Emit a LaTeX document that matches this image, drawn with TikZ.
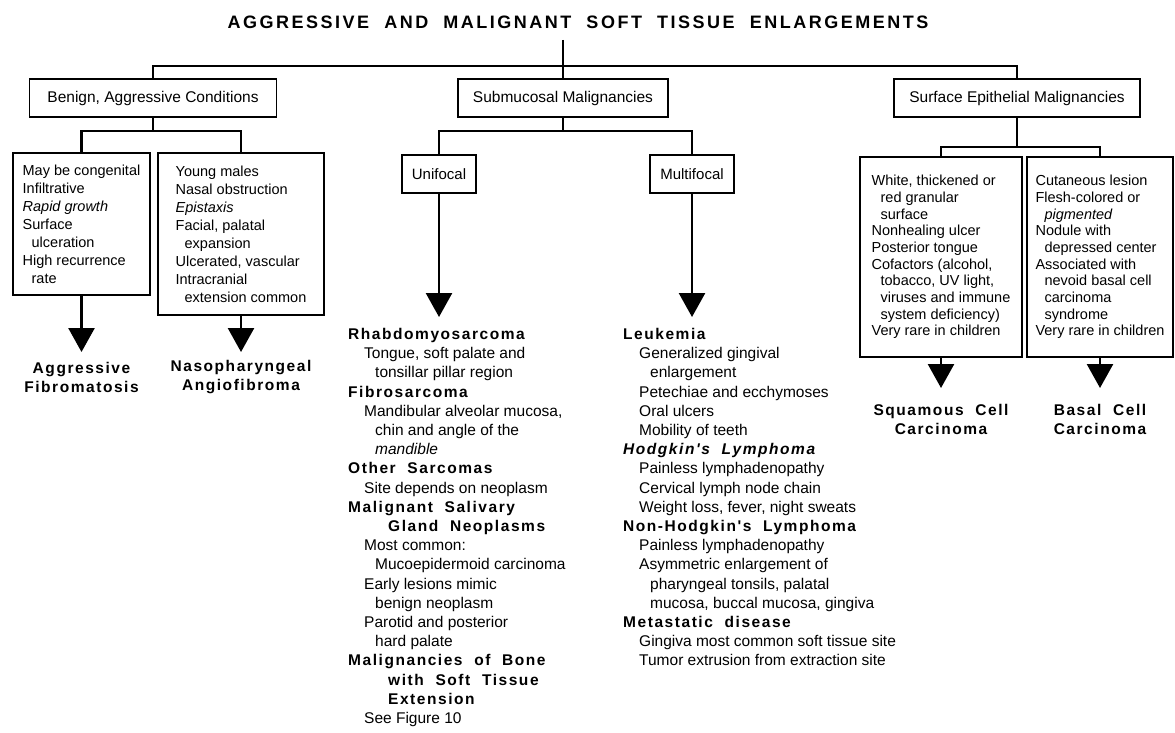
\documentclass[tikz,border=0pt]{standalone}
\usepackage{fontspec}
\setmainfont{Liberation Sans}
\newfontfamily\spacedfont[LetterSpace=10]{Liberation Sans}
\newfontfamily\titlefont[LetterSpace=14]{Liberation Sans}
\usetikzlibrary{arrows.meta}
\newcommand\hd[1]{{\spacedfont\bfseries #1}}
\newcommand\hdi[1]{{\spacedfont\bfseries\itshape #1}}
\newcommand\ia{\hspace*{16pt}}
\newcommand\ib{\hspace*{27pt}}
\newcommand\ic{\hspace*{40pt}}
\newcommand\bi{\hspace*{9pt}}
\tikzset{
  box/.style={draw, line width=1.5pt, inner sep=0pt, align=left},
  topbox/.style={box, minimum height=38pt, font=\fontsize{15.5}{18}\selectfont},
  smallbox/.style={box, minimum height=38pt, font=\fontsize{15}{18}\selectfont, align=center},
  lboxtext/.style={font=\fontsize{14.5}{18}\selectfont},
  rboxtext/.style={font=\fontsize{14.5}{16.7}\selectfont},
  conn/.style={line width=2.4pt},
  bigarrow/.style={line width=2.6pt, -{Triangle[width=26pt,length=24pt]}},
  coltext/.style={anchor=north west, inner sep=0pt, align=left, font=\fontsize{15.5}{19.2}\selectfont},
  label/.style={align=center, inner sep=0pt, font=\fontsize{15.5}{19}\selectfont\spacedfont\bfseries},
}
\begin{document}
\begin{tikzpicture}[x=1pt,y=-1pt]
\path[fill=white] (0,0) rectangle (1175,733);
\useasboundingbox (0,0) rectangle (1175,733);

% title
\node[inner sep=0pt, font=\fontsize{18}{20}\selectfont\titlefont\bfseries] (title) at (578,22)
  {AGGRESSIVE\ \ AND\ \ MALIGNANT\ \ SOFT\ \ TISSUE\ \ ENLARGEMENTS};
\coordinate (stemtop) at (563,40);
\coordinate (bar) at (563,66);

% top level boxes
\node[topbox, minimum width=247pt] (benign) at (153,98) {Benign, Aggressive Conditions};
\node[topbox, minimum width=210pt] (submuc) at (563,98) {Submucosal Malignancies};
\node[topbox, minimum width=246pt] (surface) at (1017,98) {Surface Epithelial Malignancies};

\draw[conn] (stemtop) -- (submuc.north);
\draw[conn] (benign.north) |- (bar) -| (surface.north);

% benign branch
\node[box, lboxtext, minimum width=137pt, minimum height=142pt] (box1) at (81.5,224)
{May be congenital\\Infiltrative\\\textit{Rapid growth}\\Surface\\\bi ulceration\\High recurrence\\\bi rate};
\node[box, lboxtext, minimum width=166pt, minimum height=162pt] (box2) at (241,234)
{Young males\\Nasal obstruction\\\textit{Epistaxis}\\Facial, palatal\\\bi expansion\\Ulcerated, vascular\\Intracranial\\\bi extension common};
\coordinate (bj) at (153,131);
\draw[conn] (benign.south) -- (bj);
\draw[conn] (box1.north) |- (bj) -| (box2.north);

\coordinate (t1) at (81.5,352);
\coordinate (t2) at (241,352);
\draw[bigarrow] (box1.south) -- (t1);
\draw[bigarrow] (box2.south) -- (t2);
\node[label] (lab1) at (81.5,377) {Aggressive\\Fibromatosis};
\node[label] (lab2) at (241,377) {Nasopharyngeal\\Angiofibroma};

% submucosal branch
\node[smallbox, minimum width=74pt] (uni) at (439,174) {Unifocal};
\node[smallbox, minimum width=84pt] (multi) at (692,174) {Multifocal};
\coordinate (sj) at (563,131);
\draw[conn] (submuc.south) -- (sj);
\draw[conn] (uni.north) |- (sj) -| (multi.north);
\coordinate (t3) at (439,317);
\coordinate (t4) at (692,317);
\draw[bigarrow] (uni.south) -- (t3);
\draw[bigarrow] (multi.south) -- (t4);

\node[coltext] (ucol) at (348,328) {%
\hd{Rhabdomyosarcoma}\\
\ia Tongue, soft palate and\\
\ib tonsillar pillar region\\
\hd{Fibrosarcoma}\\
\ia Mandibular alveolar mucosa,\\
\ib chin and angle of the\\
\ib \textit{mandible}\\
\hd{Other\ \ Sarcomas}\\
\ia Site depends on neoplasm\\
\hd{Malignant\ \ Salivary}\\
\ic\hd{Gland\ \ Neoplasms}\\
\ia Most common:\\
\ib Mucoepidermoid carcinoma\\
\ia Early lesions mimic\\
\ib benign neoplasm\\
\ia Parotid and posterior\\
\ib hard palate\\
\hd{Malignancies\ \ of\ \ Bone}\\
\ic\hd{with\ \ Soft\ \ Tissue}\\
\ic\hd{Extension}\\
\ia See Figure 10};

\node[coltext] (mcol) at (623,328) {%
\hd{Leukemia}\\
\ia Generalized gingival\\
\ib enlargement\\
\ia Petechiae and ecchymoses\\
\ia Oral ulcers\\
\ia Mobility of teeth\\
\hdi{Hodgkin's\ \ Lymphoma}\\
\ia Painless lymphadenopathy\\
\ia Cervical lymph node chain\\
\ia Weight loss, fever, night sweats\\
\hd{Non-Hodgkin's\ \ Lymphoma}\\
\ia Painless lymphadenopathy\\
\ia Asymmetric enlargement of\\
\ib pharyngeal tonsils, palatal\\
\ib mucosa, buccal mucosa, gingiva\\
\hd{Metastatic\ \ disease}\\
\ia Gingiva most common soft tissue site\\
\ia Tumor extrusion from extraction site};

% surface branch
\node[box, rboxtext, minimum width=162pt, minimum height=200pt] (box3) at (941,257)
{White, thickened or\\\bi red granular\\\bi surface\\Nonhealing ulcer\\Posterior tongue\\Cofactors (alcohol,\\\bi tobacco, UV light,\\\bi viruses and immune\\\bi system deficiency)\\Very rare in children};
\node[box, rboxtext, minimum width=146pt, minimum height=200pt] (box4) at (1100,257)
{Cutaneous lesion\\Flesh-colored or\\\bi \textit{pigmented}\\Nodule with\\\bi depressed center\\Associated with\\\bi nevoid basal cell\\\bi carcinoma\\\bi syndrome\\Very rare in children};
\coordinate (rj) at (1017,147);
\draw[conn] (surface.south) -- (rj);
\draw[conn] (box3.north) |- (rj) -| (box4.north);
\coordinate (t5) at (941,388);
\coordinate (t6) at (1100,388);
\draw[bigarrow] (box3.south) -- (t5);
\draw[bigarrow] (box4.south) -- (t6);
\node[label] (lab3) at (941,419) {Squamous\ \ Cell\\Carcinoma};
\node[label] (lab4) at (1100,419) {Basal\ \ Cell\\Carcinoma};
\end{tikzpicture}
\end{document}
